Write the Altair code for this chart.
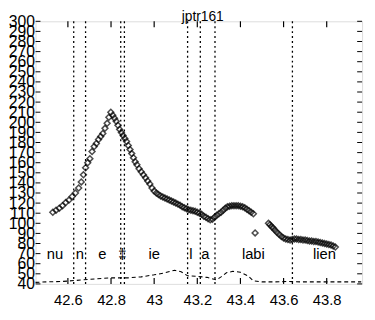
import altair as alt
import pandas as pd

# ---- data ----
title_text = ["jptr161"]

pitch_x = [42.53, 42.545, 42.56, 42.575, 42.59, 42.605, 42.62, 42.635, 42.65, 42.662,
           42.672, 42.682, 42.692, 42.702, 42.712, 42.722, 42.732, 42.742, 42.752, 42.762,
           42.772, 42.782, 42.79, 42.799, 42.808, 42.816, 42.824, 42.832, 42.84, 42.848,
           42.856, 42.864, 42.872, 42.88, 42.888, 42.896, 42.904, 42.912, 42.92, 42.93,
           42.94, 42.95, 42.96, 42.97, 42.98, 42.99, 43.0, 43.01, 43.02, 43.03,
           43.04, 43.05, 43.06, 43.07, 43.08, 43.09, 43.1, 43.11, 43.12, 43.13,
           43.14, 43.15, 43.16, 43.17, 43.18, 43.19, 43.2, 43.21, 43.22, 43.23,
           43.24, 43.25, 43.26, 43.27, 43.28, 43.29, 43.3, 43.31, 43.32, 43.33,
           43.34, 43.35, 43.36, 43.37, 43.38, 43.39, 43.4, 43.41, 43.42, 43.43,
           43.44, 43.45, 43.46, 43.468, 43.53, 43.537, 43.545, 43.553, 43.561, 43.57,
           43.58, 43.59, 43.6, 43.61, 43.62, 43.63, 43.64, 43.65, 43.66, 43.67,
           43.68, 43.69, 43.7, 43.71, 43.72, 43.73, 43.74, 43.75, 43.76, 43.77,
           43.78, 43.79, 43.8, 43.81, 43.82, 43.83, 43.84]
pitch_y = [111, 113, 115, 117.5, 120.5, 123, 126.5, 130, 135, 141,
           148, 155, 160, 164, 171, 176, 179, 183, 186, 189,
           194, 199, 205, 210, 207, 204, 201, 197, 193, 190,
           187, 184, 181, 177, 173, 169, 165, 161, 158, 154,
           151, 148, 145, 142, 139, 135, 132, 130, 128.5, 127,
           126, 125, 124, 123, 122, 121, 120, 119, 118, 116.5,
           115.5, 114.5, 113.5, 113, 112.5, 112, 111, 110, 109, 107,
           106, 104.5, 103.5, 104, 106, 108, 109.5, 111, 113, 115,
           116.5, 117, 117.5, 117.5, 117.5, 117.5, 117, 116.5, 115.5, 114,
           112.5, 111, 109.5, 90.5, 100, 98.5, 96.5, 95, 93, 91,
           89, 87, 85.5, 84.5, 84, 83.5, 84, 84.5, 84.5, 84,
           84, 83.5, 83.5, 83, 82.5, 82.5, 82, 82, 81.5, 81,
           80.5, 80, 79.5, 79, 78.5, 77.5, 76.5]

energy_x = [42.45, 42.5, 42.58, 42.67, 42.73, 42.8, 42.88, 42.94, 43.0, 43.05,
            43.095, 43.125, 43.155, 43.2, 43.245, 43.29, 43.31, 43.335, 43.365, 43.4,
            43.435, 43.46, 43.5, 43.56, 43.62, 43.68, 43.75, 43.82, 43.9, 43.96]
energy_y = [41.5, 42, 42.5, 44, 45, 46, 46, 47, 49, 51,
            53.5, 52, 48, 47.5, 46.5, 44, 47, 51, 52.5, 51.5,
            48, 43, 42, 42, 42.5, 42, 42, 42, 42, 42]

boundaries = [42.627, 42.682, 42.845, 42.862, 43.155, 43.214, 43.282, 43.641]

seg_labels = ["nu", "n", "e", "\u2021", "ie", "l", "a", "labi", "lien"]
seg_label_x = [42.54, 42.655, 42.76, 42.853, 43.0, 43.17, 43.237, 43.46, 43.79]
seg_label_y = [65, 65, 65, 65, 65, 65, 65, 65, 65]

x_ticks = [42.6, 42.8, 43.0, 43.2, 43.4, 43.6, 43.8]
y_ticks = [40, 50, 60, 70, 80, 90, 100, 110, 120, 130, 140, 150, 160, 170,
           180, 190, 200, 210, 220, 230, 240, 250, 260, 270, 280, 290, 300]

W, H = 332, 267
FONT = "Liberation Sans"

xs = alt.Scale(domain=[42.45, 43.964], nice=False, zero=False)
ys = alt.Scale(domain=[40, 300], nice=False, zero=False)
x_axis = alt.Axis(values=x_ticks, format="~g", ticks=False, domain=False, grid=False,
                  labelFontSize=15, labelFont=FONT, labelColor="black", labelPadding=9,
                  title=None, labelOverlap=False)
y_axis = alt.Axis(values=y_ticks, ticks=False, domain=False, grid=False,
                  labelFontSize=16, labelFont=FONT, labelColor="black", labelPadding=1,
                  title=None, labelOverlap=False, labelFlush=False)


def X():
    return alt.X("x:Q", scale=xs, axis=x_axis)


def Y():
    return alt.Y("y:Q", scale=ys, axis=y_axis)


pitch = pd.DataFrame({"x": pitch_x, "y": pitch_y})
energy = pd.DataFrame({"x": energy_x, "y": energy_y})
bounds = pd.DataFrame({"x": boundaries})
labs = pd.DataFrame({"x": seg_label_x, "y": seg_label_y, "lab": seg_labels})
xt = pd.DataFrame({"x": x_ticks})
yt = pd.DataFrame({"y": y_ticks})
tdf = pd.DataFrame({"t": title_text})

vlines = alt.Chart(bounds).mark_rule(color="black", strokeWidth=1.3, strokeDash=[2, 3]).encode(
    x=X(), y=alt.value(0), y2=alt.value(H))

eline = alt.Chart(energy).mark_line(color="black", strokeWidth=1.1, strokeDash=[4, 3]).encode(
    x=X(), y=Y())

pts = alt.Chart(pitch).mark_point(shape="diamond", filled=False, color="black",
                                  size=36, strokeWidth=1.5).encode(x=X(), y=Y())

txt = alt.Chart(labs).mark_text(font=FONT, fontSize=15, color="black",
                                baseline="alphabetic", align="center").encode(
    x=X(), y=Y(), text="lab:N")

ttl = alt.Chart(tdf).mark_text(font=FONT, fontSize=14, color="black",
                               baseline="alphabetic", align="center").encode(
    x=alt.value(W / 2 + 4), y=alt.value(0), text="t:N")

lt = alt.Chart(yt).mark_rule(color="black", strokeWidth=1).encode(
    y=Y(), x=alt.value(0), x2=alt.value(5))
rt = alt.Chart(yt).mark_rule(color="black", strokeWidth=1).encode(
    y=Y(), x=alt.value(W), x2=alt.value(W - 5))
bt = alt.Chart(xt).mark_rule(color="black", strokeWidth=1.2).encode(
    x=X(), y=alt.value(H), y2=alt.value(H - 6))
tt = alt.Chart(xt).mark_rule(color="black", strokeWidth=1.2).encode(
    x=X(), y=alt.value(0), y2=alt.value(6))

chart = alt.layer(vlines, eline, pts, txt, ttl, lt, rt, bt, tt).properties(
    width=W, height=H,
    autosize=alt.AutoSizeParams(type="none"),
    padding={"left": 28, "top": 11, "right": 5, "bottom": 24},
).configure_view(stroke="black", strokeWidth=1.6).configure(background="white")

chart.save("out.html", embed_options={"renderer": "svg", "actions": False})
